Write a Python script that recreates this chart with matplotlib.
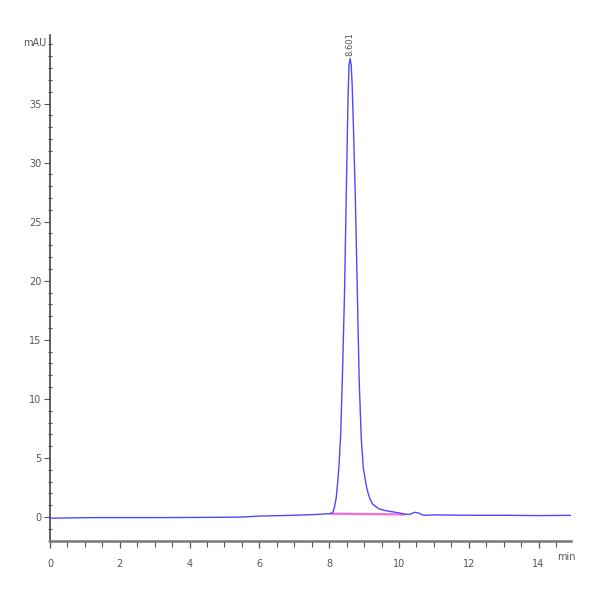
import matplotlib
matplotlib.use("Agg")
import matplotlib.pyplot as plt
from matplotlib.ticker import MultipleLocator

# Chromatogram trace (time in min, signal in mAU)
time_min = [0.0, 1.2, 3.0, 5.0, 5.5, 6.0, 7.0, 7.5, 8.0, 8.10, 8.15, 8.20, 8.24, 8.28,
            8.33, 8.38, 8.44, 8.50, 8.54, 8.57, 8.60, 8.63, 8.66, 8.70, 8.75, 8.81,
            8.86, 8.92, 8.98, 9.08, 9.16, 9.24, 9.42, 9.60, 9.80, 10.00, 10.15,
            10.30, 10.45, 10.55, 10.70, 11.0, 12.0, 13.0, 14.0, 15.2]
signal_mau = [-0.10, -0.05, -0.05, -0.02, 0.00, 0.08, 0.15, 0.20, 0.28, 0.35, 0.80, 1.60,
              2.80, 4.30, 7.00, 12.0, 19.0, 29.0, 35.5, 38.3, 38.8, 38.3, 36.5, 32.5,
              27.0, 18.6, 11.5, 6.6, 4.1, 2.4, 1.6, 1.1, 0.70, 0.55, 0.45, 0.35, 0.25,
              0.22, 0.40, 0.35, 0.15, 0.18, 0.15, 0.15, 0.12, 0.15]

# Integration baseline of the peak
base_time = [8.05, 10.15]
base_mau = [0.28, 0.22]

peak_label = "8.601"
peak_time = 8.601
peak_height = 38.8

y_major = [0, 5, 10, 15, 20, 25, 30, 35]
x_major = [0, 2, 4, 6, 8, 10, 12, 14]

fig = plt.figure(figsize=(6, 6), dpi=100)
ax = fig.add_axes([0.0833, 0.0983, 0.869, 0.8434])

ax.plot(time_min, signal_mau, color="#4a4aff", lw=1.0, zorder=3)
ax.plot(base_time, base_mau, color="#ff66dd", lw=1.6, zorder=2)

ax.set_xlim(0, 14.94)
ax.set_ylim(-2.03, 40.8)

for s in ["top", "right"]:
    ax.spines[s].set_visible(False)
ax.spines["left"].set_color("#444444")
ax.spines["left"].set_linewidth(1.2)
ax.spines["bottom"].set_color("#777777")
ax.spines["bottom"].set_linewidth(1.8)

lab_font = dict(family=["Liberation Sans Narrow", "DejaVu Sans"], size=7, color="#555555")

ax.set_yticks(y_major)
ax.set_yticklabels([str(v) for v in y_major], **lab_font)
ax.yaxis.set_minor_locator(MultipleLocator(1))
ax.tick_params(axis="y", which="major", length=4, width=0.8, color="#555555", direction="out", pad=2)
ax.tick_params(axis="y", which="minor", length=3, width=0.8, color="#555555", direction="inout")

ax.set_xticks(x_major)
ax.set_xticklabels([str(v) for v in x_major], **lab_font)
ax.xaxis.set_minor_locator(MultipleLocator(0.5))
ax.tick_params(axis="x", which="major", length=5, width=0.9, color="#555555", direction="out", pad=8)
ax.tick_params(axis="x", which="minor", length=4, width=0.8, color="#555555", direction="out")

ax.text(-0.1, 40.1, "mAU", ha="right", va="center", **lab_font)
ax.text(14.8, -3.0, "min", ha="center", va="top", **lab_font)

ax.text(peak_time, peak_height + 0.2, peak_label, rotation=90, ha="center", va="bottom",
        family=["Liberation Sans Narrow", "DejaVu Sans"], size=6, color="#555555")

fig.savefig("out.png", dpi=100)
